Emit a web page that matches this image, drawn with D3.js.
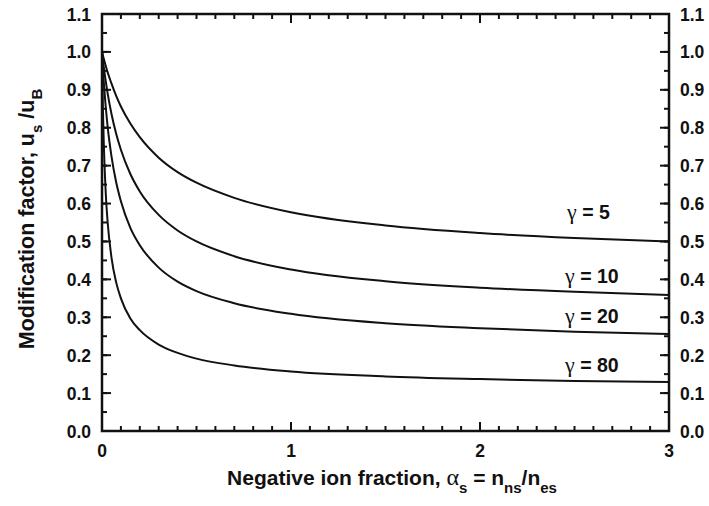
<!DOCTYPE html>
<html><head><meta charset="utf-8">
<script src="https://cdn.jsdelivr.net/npm/d3@7"></script>
<style>
body{margin:0;background:#fff;}
text{font-family:"Liberation Sans",Arial,sans-serif;font-weight:bold;fill:#111;}
</style></head>
<body><svg id="c" width="709" height="506"></svg>
<script>
// Data
const alpha = [0, 0.005, 0.01, 0.02, 0.03, 0.05, 0.075, 0.1, 0.15, 0.2, 0.3, 0.4, 0.5, 0.7, 1.0, 1.5, 2.0, 2.5, 3.0];
const g5  = [1, 0.990, 0.981, 0.963, 0.946, 0.917, 0.884, 0.856, 0.811, 0.775, 0.721, 0.683, 0.655, 0.615, 0.577, 0.542, 0.522, 0.509, 0.500];
const g10 = [1, 0.978, 0.958, 0.922, 0.890, 0.837, 0.784, 0.742, 0.678, 0.632, 0.570, 0.529, 0.500, 0.461, 0.426, 0.395, 0.378, 0.367, 0.359];
const g20 = [1, 0.956, 0.917, 0.854, 0.802, 0.725, 0.656, 0.606, 0.536, 0.490, 0.431, 0.394, 0.369, 0.337, 0.309, 0.284, 0.271, 0.262, 0.256];
const g80 = [1, 0.847, 0.749, 0.626, 0.550, 0.458, 0.392, 0.350, 0.297, 0.266, 0.228, 0.206, 0.191, 0.173, 0.157, 0.144, 0.137, 0.132, 0.129];
const seriesNames = ["5", "10", "20", "80"];
const seriesVals = [g5, g10, g20, g80];
const xTicks = [0, 1, 2, 3];
const yTicks = [0, 0.1, 0.2, 0.3, 0.4, 0.5, 0.6, 0.7, 0.8, 0.9, 1.0, 1.1];

const svg = d3.select("#c");
const L = 102, R = 669, T = 14, B = 431;
const x = d3.scaleLinear().domain([0, 3]).range([L, R]);
const y = d3.scaleLinear().domain([0, 1.1]).range([B, T]);

const xMinor = d3.range(0, 3.0001, 0.1).map(v => +v.toFixed(2));
const yMinor = d3.range(0, 1.1001, 0.05).map(v => +v.toFixed(3));

const ax = svg.append("g").attr("stroke", "#111").attr("stroke-width", 2);
xMinor.forEach(v => {
  ax.append("line").attr("x1", x(v)).attr("x2", x(v)).attr("y1", B).attr("y2", B - 5);
  ax.append("line").attr("x1", x(v)).attr("x2", x(v)).attr("y1", T).attr("y2", T + 5);
});
xTicks.forEach(v => {
  ax.append("line").attr("x1", x(v)).attr("x2", x(v)).attr("y1", B).attr("y2", B - 9);
  ax.append("line").attr("x1", x(v)).attr("x2", x(v)).attr("y1", T).attr("y2", T + 9);
});
yMinor.forEach(v => {
  ax.append("line").attr("y1", y(v)).attr("y2", y(v)).attr("x1", L).attr("x2", L + 5);
  ax.append("line").attr("y1", y(v)).attr("y2", y(v)).attr("x1", R).attr("x2", R - 5);
});
yTicks.forEach(v => {
  ax.append("line").attr("y1", y(v)).attr("y2", y(v)).attr("x1", L).attr("x2", L + 9);
  ax.append("line").attr("y1", y(v)).attr("y2", y(v)).attr("x1", R).attr("x2", R - 9);
});

const line = d3.line().x(d => x(d[0])).y(d => y(d[1])).curve(d3.curveMonotoneX);
seriesVals.forEach(vals => {
  svg.append("path").datum(alpha.map((a, i) => [a, vals[i]]))
    .attr("d", line).attr("fill", "none").attr("stroke", "#111").attr("stroke-width", 2);
});

svg.append("rect").attr("x", L).attr("y", T).attr("width", R - L).attr("height", B - T)
  .attr("fill", "none").attr("stroke", "#111").attr("stroke-width", 2.5);

const fmt = d3.format(".1f");
yTicks.forEach(v => {
  svg.append("text").attr("x", 91).attr("y", y(v) + 6.5).attr("text-anchor", "end")
    .attr("font-size", 17.5).text(fmt(v));
  svg.append("text").attr("x", 680).attr("y", y(v) + 6.5).attr("text-anchor", "start")
    .attr("font-size", 17.5).text(fmt(v));
});
xTicks.forEach(v => {
  svg.append("text").attr("x", x(v)).attr("y", 457).attr("text-anchor", "middle")
    .attr("font-size", 17.5).text(v);
});

const greek = "Liberation Serif, DejaVu Serif, serif";
const labelPos = [[567, 219], [565, 283], [565, 323], [565, 372]];
seriesNames.forEach((n, i) => {
  const t = svg.append("text").attr("x", labelPos[i][0]).attr("y", labelPos[i][1]).attr("font-size", 19.5);
  t.append("tspan").attr("font-weight", "normal").attr("font-family", greek).attr("font-size", 22).text("γ");
  t.append("tspan").text(" = " + n);
});

const xt = svg.append("text").attr("x", 392).attr("y", 485).attr("text-anchor", "middle").attr("font-size", 21);
xt.append("tspan").text("Negative ion fraction, ");
xt.append("tspan").attr("font-weight", "normal").attr("font-family", greek).attr("font-size", 24).text("α");
xt.append("tspan").attr("font-size", 15).attr("dy", 8).text("s");
xt.append("tspan").attr("dy", -8).text(" = n");
xt.append("tspan").attr("font-size", 15).attr("dy", 8).text("ns");
xt.append("tspan").attr("dy", -8).text("/n");
xt.append("tspan").attr("font-size", 15).attr("dy", 8).text("es");

const yt = svg.append("text").attr("transform", "translate(34,219) rotate(-90)").attr("text-anchor", "middle").attr("font-size", 21.5);
yt.append("tspan").text("Modification factor, u");
yt.append("tspan").attr("font-size", 15).attr("dy", 8).text("s");
yt.append("tspan").attr("dy", -8).text(" /u");
yt.append("tspan").attr("font-size", 15).attr("dy", 8).text("B");
</script></body></html>
